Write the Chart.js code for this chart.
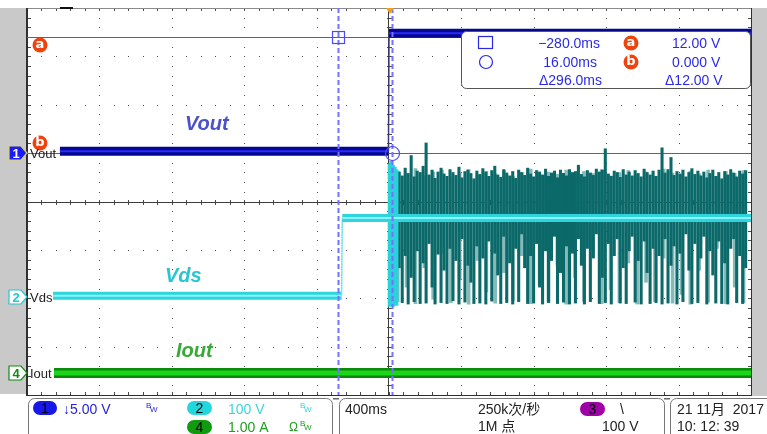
<!DOCTYPE html>
<html>
<head>
<meta charset="utf-8">
<script src="https://cdn.jsdelivr.net/npm/chart.js@4.4.1/dist/chart.umd.min.js"></script>
<style>
  html, body { margin: 0; padding: 0; background: #fff; }
  canvas { display: block; }
</style>
</head>
<body>
<canvas id="scope" width="767" height="434"></canvas>
<script>
// time in ms, 0 = trigger point
const voutTime = [-1818, -3, 0, 2000];
const voutVolts = [0.2, 0.2, 12.4, 12.4];
const vdsTime = [-1856, -262, -258, 2000];
const vdsVolts = [2, 2, 163, 163];
const ioutTime = [-1851, 2000];
const ioutAmps = [0, 0];

// Vds ringing after turn-on, one entry per spike (V)
const spikeStart = 40, spikeStep = 16.5;
const spikeHigh = [
  262, 258, 250, 266, 255, 292, 248, 260, 257, 270,
  318, 252, 262, 245, 258, 266, 254, 249, 263, 257,
  251, 268, 246, 259, 262, 255, 244, 260, 253, 265,
  258, 249, 261, 270, 252, 247, 263, 256, 250, 259,
  245, 262, 257, 251, 266, 254, 248, 261, 258, 252,
  264, 249, 256, 260, 246, 262, 255, 250, 263, 257,
  259, 272, 253, 248, 261, 256, 251, 264, 258, 262,
  306, 254, 249, 260, 257, 247, 263, 252, 258, 250,
  261, 255, 248, 264, 257, 252, 260, 249, 262, 308,
  256, 263, 288, 251, 259, 254, 262, 248, 257, 265,
  253, 260, 250, 258, 246, 255, 262, 249, 257, 244,
  259, 252, 263, 256, 248, 260, 254, 261
];
const spikeLow = [
  -14, 60, -12, 85, -15, 40, -10, 95, -14, 70,
  -13, 110, 20, -15, 88, -12, 55, -14, 100, -8,
  75, -15, 120, -11, 65, 30, -14, 105, -13, 80,
  -15, 115, -9, 90, 45, -14, 125, -12, 70, -15,
  100, -10, 130, 60, -14, 85, -13, 110, 20, -15,
  95, -12, 75, 125, -14, 50, -11, 105, -15, 90,
  -13, 120, 65, -15, 100, -10, 80, 130, -14, 40,
  -12, 110, -15, 85, 120, -13, 60, -14, 95, 125,
  -11, 75, -15, 115, 50, -14, 100, -12, 85, -15,
  120, -13, 65, 105, -15, 90, -10, 130, 55, -14,
  110, -12, 80, 125, -15, 95, 45, -13, 115, -14,
  70, -15, 100, 120, -12, 85, -14, 60
];
const faintStart = 48, faintStep = 49;
const faintHigh = [260, 255, 265, 250, 258, 262, 248, 256, 263, 252, 259, 254, 261, 249, 257, 264, 251, 258, 253, 262,
                   247, 259, 255, 263, 250, 257, 261, 253, 258, 249, 264, 256, 252, 260, 254, 262, 248, 259, 255, 261];
const faintLow = [-10, 20, -14, 60, -5, 90, -12, 35, -15, 75, 10, -13, 50, -8, 85, -14, 25, -11, 65, -15,
                  40, -9, 95, -14, 15, -12, 70, -15, 30, -10, 80, -13, 5, -15, 55, -11, 100, -14, 20, -12];
const burstTime = [3, 12, 22, 32, 42];
const burstHigh = [275, 280, 272, 268, 262];
const burstLow = [-20, -18, -20, -16, -18];

const cursorTime = [-280, 16];  // ms
const cursorVolts = [12, 0];    // V on channel 1

const pts = (xs, ys) => xs.map((x, i) => ({ x: x, y: ys[i] }));
const flat = ctx => ctx.p0.parsed.y === ctx.p1.parsed.y;

const FONT = '"Liberation Sans", "Noto Sans CJK SC", sans-serif';

function pill(c, x, y, w, h, fill, label) {
  c.save();
  c.fillStyle = fill;
  c.beginPath();
  c.roundRect(x, y, w, h, h / 2);
  c.fill();
  c.fillStyle = '#000';
  c.font = '14px ' + FONT;
  c.textAlign = 'center';
  c.textBaseline = 'middle';
  c.fillText(label, x + w / 2, y + h / 2 + 1);
  c.restore();
}

function tag(c, x, y, letter) {
  c.save();
  c.fillStyle = '#ef420c';
  c.beginPath();
  c.arc(x, y, 7.5, 0, Math.PI * 2);
  c.fill();
  c.fillStyle = '#fff';
  c.font = 'bold 13px "DejaVu Sans"';
  c.textAlign = 'center';
  c.textBaseline = 'middle';
  c.fillText(letter, x, y);
  c.restore();
}

function chanMarker(c, y, num, fill, stroke, text, name) {
  c.save();
  c.beginPath();
  c.moveTo(9, y - 7); c.lineTo(21, y - 7); c.lineTo(27, y);
  c.lineTo(21, y + 7); c.lineTo(9, y + 7); c.closePath();
  c.fillStyle = fill; c.fill();
  c.lineWidth = 1.2; c.strokeStyle = stroke; c.stroke();
  c.fillStyle = text;
  c.font = 'bold 13px ' + FONT;
  c.textAlign = 'center'; c.textBaseline = 'middle';
  c.fillText(num, 16, y + 1);
  c.fillStyle = '#222';
  c.font = '13px ' + FONT;
  c.textAlign = 'left';
  c.fillText(name, 30, y + 1);
  c.restore();
}

const scopeScreen = {
  id: 'scopeScreen',
  beforeDraw(chart) {
    const c = chart.ctx;
    c.save();
    c.fillStyle = '#fff';
    c.fillRect(0, 0, chart.width, chart.height);
    c.fillStyle = '#c9c9c9';
    c.fillRect(0, 8, 27, 386);
    c.fillRect(752, 8, 15, 388);

    // bottom status panel
    c.strokeStyle = '#777';
    c.lineWidth = 1;
    c.beginPath(); c.roundRect(28.5, 398.5, 304, 50, 6); c.stroke();
    c.beginPath(); c.roundRect(339.5, 398.5, 325, 50, 6); c.stroke();
    c.beginPath(); c.roundRect(670.5, 398.5, 120, 50, 6); c.stroke();
    c.fillStyle = '#666';
    c.fillRect(333, 398, 6, 1.5); c.fillRect(664, 398, 6, 1.5);

    c.textAlign = 'left'; c.textBaseline = 'alphabetic';
    pill(c, 33, 401, 24, 14, '#1818e8', '1');
    c.font = '14px ' + FONT;
    c.fillStyle = '#2424e0'; c.fillText('\u21935.00 V', 63, 414);
    c.font = '8px ' + FONT; c.fillText('B', 146, 408); c.fillText('W', 150, 412);

    pill(c, 187, 401, 25, 14, '#22d6de', '2');
    c.font = '14px ' + FONT; c.fillStyle = '#3cd4dc';
    c.fillText('100 V', 228, 414);
    c.font = '8px ' + FONT; c.fillText('B', 300, 408); c.fillText('W', 304, 412);

    pill(c, 187, 420, 25, 14, '#109a10', '4');
    c.font = '14px ' + FONT; c.fillStyle = '#1e9e1e';
    c.fillText('1.00 A', 228, 432);
    c.font = '12px ' + FONT; c.fillText('\u03a9', 289, 431);
    c.font = '8px ' + FONT; c.fillText('B', 300, 426); c.fillText('W', 304, 430);

    c.font = '14px ' + FONT; c.fillStyle = '#222';
    c.fillText('400ms', 345, 414);
    c.fillText('250k\u6b21/\u79d2', 478, 414);
    c.fillText('1M \u70b9', 478, 431);
    pill(c, 580, 402, 25, 14, '#a000a8', '3');
    c.fillText('\\', 620, 414);
    c.fillText('100 V', 602, 431);
    c.fillText('21 11\u6708  2017', 677, 414);
    c.fillText('10: 12: 39', 677, 431);
    c.restore();
  },
  beforeDatasetsDraw(chart) {
    const { ctx: c, chartArea: a } = chart;
    const dx = (a.right - a.left) / 10, dy = (a.bottom - a.top) / 8;
    c.save();
    c.fillStyle = '#4a4a4a';
    for (let i = 1; i < 10; i++) {
      const x = Math.round(a.left + i * dx);
      for (let j = 1; j < 40; j++) c.fillRect(x, Math.round(a.top + j * dy / 5), 1, 1);
    }
    for (let j = 1; j < 8; j++) {
      const y = Math.round(a.top + j * dy);
      for (let i = 1; i < 50; i++) c.fillRect(Math.round(a.left + i * dx / 5), y, 1, 1);
    }
    // ticks on centre lines and edges
    const cx = Math.round(a.left + 5 * dx), cy = Math.round(a.top + 4 * dy);
    for (let i = 1; i < 50; i++) {
      const x = Math.round(a.left + i * dx / 5);
      c.fillRect(x, cy - 2, 1, 5);
      c.fillRect(x, a.top, 1, 3);
      c.fillRect(x, a.bottom - 3, 1, 3);
    }
    for (let j = 1; j < 40; j++) {
      const y = Math.round(a.top + j * dy / 5);
      c.fillRect(cx - 2, y, 5, 1);
      c.fillRect(a.left + 1, y, 3, 1);
      c.fillRect(a.right - 3, y, 3, 1);
    }
    c.fillStyle = '#3c3c3c';
    c.fillRect(a.left, cy, a.right - a.left, 1);
    c.fillRect(cx - 1, a.top, 1, a.bottom - a.top);
    // frame
    c.fillStyle = '#8a8a8a'; c.fillRect(a.left, a.top, a.right - a.left, 1);
    c.fillStyle = '#303030';
    c.fillRect(a.left - 1, a.top, 2, a.bottom - a.top + 1);
    c.fillRect(a.left, a.bottom, a.right - a.left + 1, 1);
    c.fillRect(a.right, a.top, 1, a.bottom - a.top);
    c.fillStyle = '#111'; c.fillRect(60, 7, 13, 2);

    // horizontal cursors on channel 1
    const y1 = chart.scales.y1;
    c.strokeStyle = '#5050ff'; c.lineWidth = 1;
    cursorVolts.forEach(v => {
      const y = Math.round(y1.getPixelForValue(v)) + 0.5;
      c.beginPath(); c.moveTo(a.left, y); c.lineTo(a.right, y); c.stroke();
    });
    c.restore();
  },
  afterDatasetsDraw(chart) {
    const { ctx: c, chartArea: a } = chart;
    const xs = chart.scales.x, y1 = chart.scales.y1;
    c.save();
    const cxA = Math.round(xs.getPixelForValue(cursorTime[0])) + 0.5;
    const cxB = Math.round(xs.getPixelForValue(cursorTime[1])) + 0.5;
    const cyA = Math.round(y1.getPixelForValue(cursorVolts[0])) + 0.5;
    const cyB = Math.round(y1.getPixelForValue(cursorVolts[1])) + 0.5;
    c.strokeStyle = '#7373ff'; c.lineWidth = 2; c.setLineDash([5, 3]);
    [cxA, cxB].forEach(x => { c.beginPath(); c.moveTo(x, a.top); c.lineTo(x, a.bottom); c.stroke(); });
    c.setLineDash([]); c.lineWidth = 1.2; c.strokeStyle = '#4a4aff';
    c.strokeRect(cxA - 6, cyA - 6, 12, 12);
    c.beginPath(); c.arc(cxB, cyB, 7, 0, Math.PI * 2); c.stroke();

    tag(c, 40, 45, 'a');
    tag(c, 40, 143, 'b');

    // trigger marker
    c.fillStyle = '#f0a020';
    c.beginPath(); c.moveTo(386, 8); c.lineTo(394, 8); c.lineTo(390, 14); c.closePath(); c.fill();

    chanMarker(c, 153, '1', '#1a1aff', '#d8d860', '#fff', 'Vout');
    chanMarker(c, 297, '2', '#fff', '#20c8d0', '#20c8d0', 'Vds');
    chanMarker(c, 373, '4', '#fff', '#118a11', '#118a11', 'Iout');

    c.font = 'bold italic 20px ' + FONT;
    c.textAlign = 'left'; c.textBaseline = 'alphabetic';
    c.fillStyle = '#4b52c9'; c.fillText('Vout', 185, 130);
    c.fillStyle = '#2ac6cf'; c.fillText('Vds', 165, 282);
    c.fillStyle = '#3aa93a'; c.fillText('Iout', 176, 357);

    // cursor readout
    c.fillStyle = '#fff'; c.strokeStyle = '#555'; c.lineWidth = 1;
    c.beginPath(); c.roundRect(461.5, 31.5, 289, 57, 5); c.fill(); c.stroke();
    c.strokeStyle = '#2a2ae6'; c.lineWidth = 1.2;
    c.strokeRect(478.5, 36.5, 14, 12);
    c.beginPath(); c.arc(486, 62, 6.5, 0, Math.PI * 2); c.stroke();
    c.fillStyle = '#2a2ae6'; c.font = '14px ' + FONT;
    c.textAlign = 'right';
    c.fillText('\u2212280.0ms', 600, 48);
    c.fillText('16.00ms', 597, 67);
    c.fillText('\u0394296.0ms', 602, 85);
    c.textAlign = 'left';
    c.fillText('12.00 V', 672, 48);
    c.fillText('0.000 V', 672, 67);
    c.fillText('\u039412.00 V', 665, 85);
    tag(c, 631, 43, 'a');
    tag(c, 631, 62, 'b');
    c.restore();
  }
};

const bars = (times, lo, hi) => hi.map((h, i) => ({ x: times(i), y: [lo[i], h] }));

new Chart(document.getElementById('scope'), {
  type: 'line',
  data: {
    datasets: [
      { type: 'bar', data: bars(i => faintStart + i * faintStep, faintLow, faintHigh), yAxisID: 'y2',
        backgroundColor: '#86baba', barThickness: 3, grouped: false, order: 9 },
      { type: 'bar', data: bars(i => spikeStart + i * spikeStep, spikeLow, spikeHigh), yAxisID: 'y2',
        backgroundColor: '#0b6969', barThickness: 2.4, grouped: false, order: 8 },
      { type: 'bar', data: bars(i => burstTime[i], burstLow, burstHigh), yAxisID: 'y2',
        backgroundColor: '#2ad2da', barThickness: 3, grouped: false, order: 7 },
      { data: pts(vdsTime, vdsVolts), yAxisID: 'y2', borderColor: '#2fd4dc', borderWidth: 8,
        segment: { borderWidth: ctx => flat(ctx) ? 8 : 1.5, borderColor: ctx => flat(ctx) ? '#2fd4dc' : '#7fe2e8' }, order: 6 },
      { data: pts(vdsTime, vdsVolts), yAxisID: 'y2', borderColor: '#86f6fa', borderWidth: 2,
        segment: { borderColor: ctx => flat(ctx) ? '#86f6fa' : 'rgba(0,0,0,0)' }, order: 5 },
      { data: pts(voutTime, voutVolts), yAxisID: 'y1', borderColor: '#06068e', borderWidth: 9,
        segment: { borderWidth: ctx => flat(ctx) ? 9 : 1.5, borderColor: ctx => flat(ctx) ? '#06068e' : '#3a3a70' }, order: 4 },
      { data: pts(voutTime, voutVolts), yAxisID: 'y1', borderColor: '#2b2bff', borderWidth: 2,
        segment: { borderColor: ctx => flat(ctx) ? '#2b2bff' : 'rgba(0,0,0,0)' }, order: 3 },
      { data: pts(ioutTime, ioutAmps), yAxisID: 'y4', borderColor: '#0c880c', borderWidth: 10, order: 2 },
      { data: pts(ioutTime, ioutAmps), yAxisID: 'y4', borderColor: '#1bd61b', borderWidth: 5, order: 1 }
    ]
  },
  options: {
    responsive: false,
    animation: false,
    layout: { padding: { left: 27, right: 16, top: 8, bottom: 39 } },
    elements: { point: { radius: 0 }, line: { tension: 0, borderCapStyle: 'butt' } },
    plugins: { legend: { display: false }, tooltip: { enabled: false }, title: { display: false } },
    scales: {
      x: { type: 'linear', min: -2000, max: 2000, offset: false, display: false },
      y1: { type: 'linear', min: -25, max: 15, display: false },
      y2: { type: 'linear', min: -203, max: 597, display: false, beginAtZero: false },
      y4: { type: 'linear', min: -0.455, max: 7.545, display: false }
    }
  },
  plugins: [scopeScreen]
});
</script>
</body>
</html>
